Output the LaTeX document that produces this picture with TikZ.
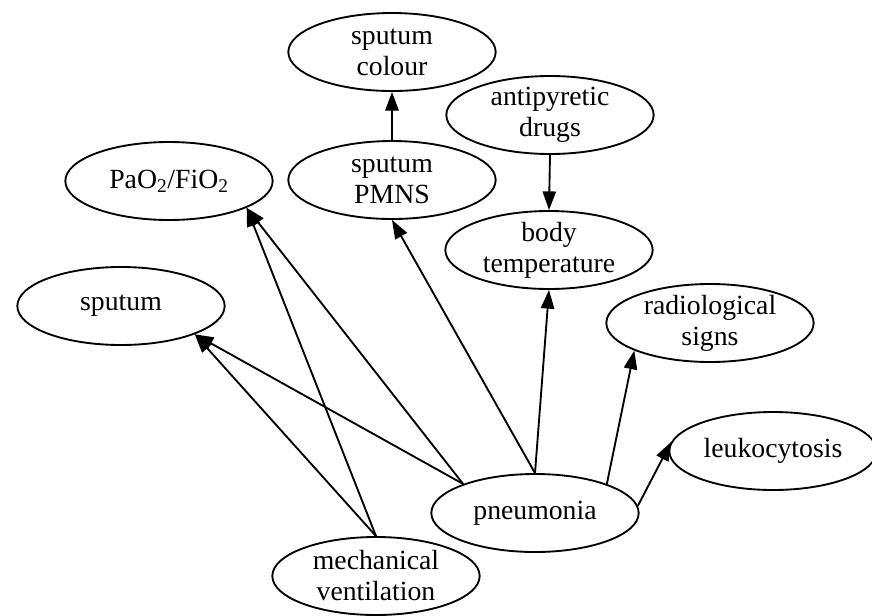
\documentclass[tikz,border=0pt]{standalone}
\usepackage{fontspec}
\setmainfont{Liberation Serif}
\usetikzlibrary{shapes.geometric,arrows.meta}
\begin{document}
\begin{tikzpicture}[x=0.75pt,y=-0.75pt,
  el/.style={ellipse, draw, line width=1.4pt, minimum width=155.5pt, minimum height=58.5pt, inner sep=0pt},
  lbl/.style={align=center, font=\fontsize{20.8}{23.25}\selectfont, inner sep=0pt},
  edge/.style={line width=1.4pt, -{Triangle[length=14pt,width=10pt]}}]
\useasboundingbox (0,0) rectangle (872,615);
\node[el, label={[lbl]center:{sputum\\colour}}] (sc) at (392,52) {};
\node[el, label={[lbl]center:{sputum\\PMNS}}] (pm) at (392,180) {};
\node[el, label={[lbl]center:{antipyretic\\drugs}}] (ad) at (550,115) {};
\node[el, label={[lbl]center:{body\\temperature}}] (bt) at (549,250) {};
\node[el, label={[lbl]center:{PaO\textsubscript{2}/FiO\textsubscript{2}}}] (pf) at (169,181) {};
\node[el, label={[lbl]center:{sputum}}] (sp) at (121,306) {};
\node[el, label={[lbl]center:{radiological\\signs}}] (rs) at (710,323) {};
\node[el, label={[lbl]center:{leukocytosis}}] (lk) at (773,451) {};
\node[el, label={[lbl]center:{pneumonia}}] (pn) at (535,513) {};
\node[el, label={[lbl]center:{mechanical\\ventilation}}] (mv) at (376,576) {};
\draw[edge] (pm.90) -- (sc.-90);
\draw[edge] (ad.-90) -- (bt.90);
\draw[edge] (pn.158.9) -- (sp.-21.4);
\draw[edge] (pn.158.9) -- (pf.-19.6);
\draw[edge] (mv.90) -- (sp.-21.4);
\draw[edge] (mv.90) -- (pf.-19.6);
\draw[edge] (pn.90) -- (pm.-90);
\draw[edge] (pn.90) -- (bt.-90);
\draw[edge] (pn.22.1) -- (rs.-160.9);
\draw[edge] (pn.4) -- (lk.175);
\end{tikzpicture}
\end{document}
